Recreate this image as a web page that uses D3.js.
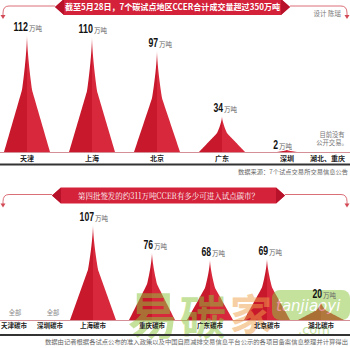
<!DOCTYPE html>
<html><head><meta charset="utf-8">
<script src="https://cdn.jsdelivr.net/npm/d3@7"></script>
<style>html,body{margin:0;padding:0;background:#fff;}svg{display:block;}</style>
</head><body>
<script>
// ---- data ----
const topTitle = "截至5月28日，7个碳试点地区CCER合计成交量超过350万吨";
const topCities = ["天津", "上海", "北京", "广东", "深圳"];
const topValues = [112, 110, 97, 34, 2];
const topNoData = "湖北、重庆";
const topNoDataNote = ["目前没有", "公开交易。"];
const topSource = "数据来源：7个试点交易所交易信息公告";
const designer = "设计 陈瑶";

const bottomTitle = "第四批签发的约311万吨CCER有多少可进入试点碳市？";
const bottomCities = ["天津碳市", "深圳碳市", "上海碳市", "重庆碳市", "广东碳市", "北京碳市", "湖北碳市"];
const bottomValues = [null, null, 107, 76, 68, 69, 20];
const bottomNotes = ["全部", "全部", "", "", "", "", ""];
const bottomSource = "数据由记者根据各试点公布的准入政策以及中国自愿减排交易信息平台公示的各项目备案信息整理并计算得出";
const unit = "万吨";

// ---- drawing ----
const W = 350, H = 348;
const svg = d3.select("body").append("svg").attr("width", W).attr("height", H);
const CJK = "'Noto Sans CJK SC', 'Noto Sans', sans-serif";
const NUM = "'Liberation Sans Narrow','Liberation Sans', Arial, sans-serif";
const RED = "#d3223a", RED_D = "#c8182c", RED_L = "#d8293c";

function peakPoints(cx, baseY, apexY) {
  const h = baseY - apexY;
  const hb = Math.min(23, 5 + h * 2.5), hk = Math.min(5, hb * 0.3), k = 0.47;
  const pts = [];
  for (let i = 0; i <= 40; i++) {
    const t = i / 40;
    const hw = t < k ? hk * Math.pow(t / k, 1.5) : hk + (hb - hk) * ((t - k) / (1 - k));
    pts.push({t, hw, y: apexY + t * h});
  }
  return {pts, cx};
}
const line = d3.line().x(d => d[0]).y(d => d[1]);
function drawPeak(g, cx, baseY, apexY) {
  const {pts} = peakPoints(cx, baseY, apexY);
  const left = [[cx, apexY]].concat(pts.map(p => [cx - p.hw, p.y])).concat([[cx, baseY]]);
  const right = [[cx, apexY]].concat(pts.map(p => [cx + p.hw, p.y])).concat([[cx, baseY]]);
  g.append("path").attr("d", line(left) + "Z").attr("fill", RED_D);
  g.append("path").attr("d", line(right) + "Z").attr("fill", RED_L);
}
function drawValueLabel(g, cx, apexY, v) {
  const s = String(v);
  const shift = v < 5 ? -9 : 1;
  g.append("text").attr("x", cx + shift).attr("y", apexY - 4 + (v < 5 ? 3 : 0))
    .attr("text-anchor", "end").attr("font-family", NUM).attr("font-weight", "bold")
    .attr("font-size", 13).attr("fill", "#111")
    .attr("textLength", s.length * 4.8).attr("lengthAdjust", "spacingAndGlyphs").text(s);
  g.append("text").attr("x", cx + shift + 1).attr("y", apexY - 4 + (v < 5 ? 3 : 0))
    .attr("font-family", CJK).attr("font-size", 6.5).attr("fill", "#666").text(unit);
}
function banner(x0, x1, cy, txt, tl, serif, bold) {
  const y0 = cy - 8, y1 = cy + 8;
  const c = svg.append("g").attr("fill", "none").attr("stroke", "#d24a55").attr("stroke-width", 0.8);
  c.append("path").attr("d", `M${x0},${cy - 1} L9,${cy - 1} Q3,${cy - 1} 3,${cy + 6} L3,${cy + 9}`);
  c.append("path").attr("d", `M${x1},${cy - 1} L${W - 9},${cy - 1} Q${W - 3},${cy - 1} ${W - 3},${cy + 6} L${W - 3},${cy + 9}`);
  svg.append("path").attr("d", `M0.5,${cy + 8} L5.5,${cy + 8} L3,${cy + 12}Z`).attr("fill", "#d24a55");
  svg.append("path").attr("d", `M${W - 5.5},${cy + 8} L${W - 0.5},${cy + 8} L${W - 3},${cy + 12}Z`).attr("fill", "#d24a55");
  svg.append("path").attr("d", `M${x0},${cy} L${x0 + 9},${y0} L${x1 - 9},${y0} L${x1},${cy} L${x1 - 9},${y1} L${x0 + 9},${y1}Z`).attr("fill", RED);
  svg.append("path").attr("d", `M${x0},${cy} L${x0 + 9},${y0} L${x0 + 9},${y1}Z`).attr("fill", "#b8122a");
  svg.append("path").attr("d", `M${x1},${cy} L${x1 - 9},${y0} L${x1 - 9},${y1}Z`).attr("fill", "#b8122a");
  svg.append("text").attr("x", (x0 + x1) / 2).attr("y", cy + 3.2).attr("text-anchor", "middle")
    .attr("font-family", serif ? "'Noto Serif CJK SC','Noto Sans CJK SC', serif" : CJK)
    .attr("font-weight", bold ? "bold" : "normal").attr("font-size", 8.5).attr("fill", "#fff")
    .attr("textLength", tl).attr("lengthAdjust", "spacingAndGlyphs").text(txt);
}

// ---- top panel ----
const xTop = d3.scalePoint().domain(topCities).range([27, 287]);
const yTop = d3.scaleLinear().domain([0, 112]).range([152, 35]);
banner(55, 290, 7, topTitle, 215, false, true);
svg.append("text").attr("x", 341).attr("y", 16).attr("text-anchor", "end").attr("font-family", CJK)
  .attr("font-size", 6.5).attr("fill", "#777").text(designer);
const gTop = svg.append("g");
topCities.forEach((c, i) => {
  drawPeak(gTop, xTop(c), yTop(0), yTop(topValues[i]));
});
svg.append("line").attr("x1", 0).attr("x2", W).attr("y1", yTop(0) + 0.5).attr("y2", yTop(0) + 0.5)
  .attr("stroke", "#c9737b").attr("stroke-width", 0.8);
topCities.forEach((c, i) => {
  drawValueLabel(svg, xTop(c), yTop(topValues[i]), topValues[i]);
  svg.append("text").attr("x", xTop(c)).attr("y", 160.5).attr("text-anchor", "middle")
    .attr("font-family", CJK).attr("font-weight", "bold").attr("font-size", 7).attr("fill", "#222").text(c);
});
svg.append("text").attr("x", W - 5).attr("y", 160.5).attr("text-anchor", "end")
  .attr("font-family", CJK).attr("font-weight", "bold").attr("font-size", 7).attr("fill", "#222").text(topNoData);
topNoDataNote.forEach((t, i) => svg.append("text").attr("x", 332).attr("y", 137 + i * 7.5).attr("text-anchor", "middle")
  .attr("font-family", CJK).attr("font-size", 6.3).attr("fill", "#777").text(t));
svg.append("rect").attr("x", 0).attr("y", 163.5).attr("width", W).attr("height", 2).attr("fill", "#333");
svg.append("text").attr("x", W - 2).attr("y", 174).attr("text-anchor", "end").attr("font-family", CJK)
  .attr("font-size", 6).attr("fill", "#666").attr("textLength", 110).attr("lengthAdjust", "spacingAndGlyphs").text(topSource);

// ---- bottom panel ----
const xBot = d3.scaleOrdinal().domain(bottomCities).range([12, 50, 93, 152, 210, 267, 321]);
const yBot = d3.scaleLinear().domain([0, 107]).range([320, 225]);
banner(52, 285, 195.5, bottomTitle, 181, true, false);
const gBot = svg.append("g");
bottomCities.forEach((c, i) => {
  if (bottomValues[i] != null) drawPeak(gBot, xBot(c), yBot(0), yBot(bottomValues[i]));
});
svg.append("line").attr("x1", 0).attr("x2", W).attr("y1", yBot(0) + 0.5).attr("y2", yBot(0) + 0.5)
  .attr("stroke", "#c9737b").attr("stroke-width", 0.8);

// ---- watermark (behind labels) ----
const wm = svg.append("g").attr("opacity", 0.5).attr("font-family", CJK).attr("font-weight", "bold");
wm.append("text").attr("x", 128).attr("y", 334).attr("font-size", 50).attr("fill", "#8cc63e").text("易");
wm.append("text").attr("x", 180).attr("y", 334).attr("font-size", 46).attr("fill", "#8cc63e").text("碳");
wm.append("text").attr("x", 230).attr("y", 330).attr("font-size", 42).attr("fill", "#f0a04b").text("家");
wm.append("rect").attr("x", 272).attr("y", 290).attr("width", 78).attr("height", 30).attr("rx", 8).attr("fill", "#8cc63e");
wm.append("text").attr("x", 276).attr("y", 311).attr("font-size", 15).attr("font-weight", "normal").attr("font-style", "italic")
  .attr("font-family", "'DejaVu Sans', sans-serif").attr("fill", "#fff").text("tanjiaoyi");
wm.append("text").attr("x", 298).attr("y", 334).attr("font-size", 13).attr("font-weight", "normal")
  .attr("font-family", "'DejaVu Sans', sans-serif").attr("fill", "#8cc63e").text(".com");

bottomCities.forEach((c, i) => {
  if (bottomValues[i] != null) drawValueLabel(svg, xBot(c), yBot(bottomValues[i]), bottomValues[i]);
  if (bottomNotes[i]) svg.append("text").attr("x", xBot(c) + 3).attr("y", 315).attr("text-anchor", "middle")
    .attr("font-family", CJK).attr("font-size", 6.3).attr("fill", "#888").text(bottomNotes[i]);
  svg.append("text").attr("x", i === 0 ? 1 : xBot(c)).attr("y", 328).attr("text-anchor", i === 0 ? "start" : "middle")
    .attr("font-family", CJK).attr("font-weight", "bold").attr("font-size", 6.5).attr("fill", "#222").text(c);
});
svg.append("rect").attr("x", 0).attr("y", 334).attr("width", W).attr("height", 2).attr("fill", "#333");
svg.append("text").attr("x", W - 2).attr("y", 344).attr("text-anchor", "end").attr("font-family", CJK)
  .attr("font-size", 6).attr("fill", "#666").attr("textLength", 303).attr("lengthAdjust", "spacingAndGlyphs").text(bottomSource);
</script>
</body></html>
